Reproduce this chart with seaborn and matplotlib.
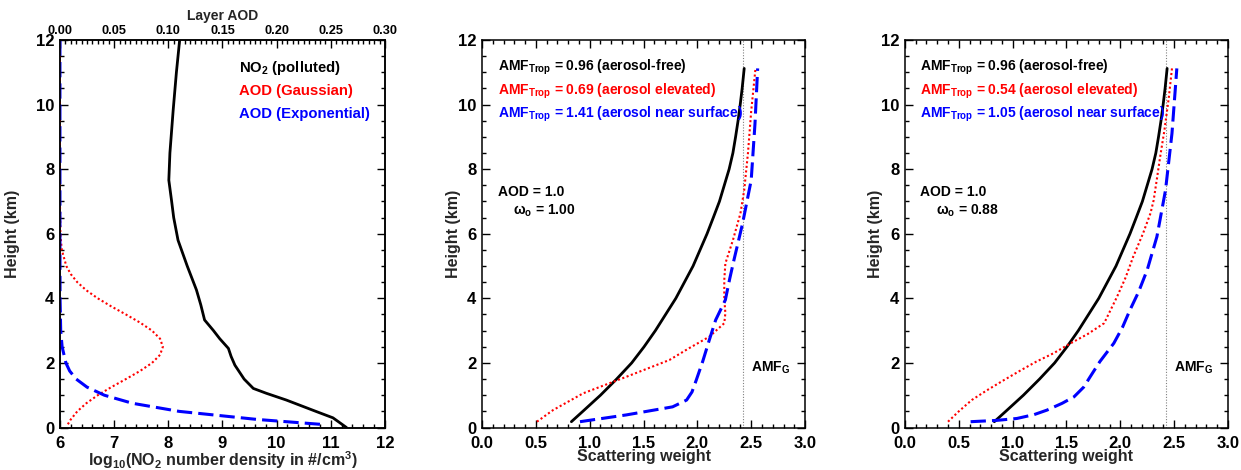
import matplotlib
matplotlib.use("Agg")
import matplotlib.pyplot as plt
import seaborn as sns
from matplotlib.ticker import MultipleLocator, FormatStrFormatter

# ---------------- data ----------------
# Panel 1: NO2 profile (bottom axis, log10 number density) vs height
no2_height = [0.0, 0.30, 0.49, 0.85, 1.06, 1.21, 1.50, 1.93, 2.20, 2.45, 2.75, 3.01, 3.33, 3.80,
              4.26, 5.00, 5.80, 6.50, 7.03, 7.66, 8.50, 9.82, 11.00, 12.00]
no2_logdens = [11.29, 11.04, 10.74, 10.18, 9.81, 9.57, 9.40, 9.23, 9.16, 9.11, 8.95, 8.83, 8.67, 8.60,
               8.52, 8.35, 8.18, 8.10, 8.06, 8.01, 8.03, 8.09, 8.15, 8.21]

# Panel 1: layer AOD (top axis)
gauss_height = [0.10, 0.25, 0.50, 0.75, 1.00, 1.25, 1.50, 1.75, 2.00, 2.25, 2.50, 2.75, 3.00, 3.25,
                3.50, 3.75, 4.00, 4.25, 4.50, 4.75, 5.00, 5.50, 6.00, 7.00, 8.00, 10.00, 12.00]
gauss_aod = [0.0073, 0.0100, 0.0160, 0.0243, 0.0349, 0.0474, 0.0609, 0.0739, 0.0850, 0.0924, 0.0950,
             0.0924, 0.0850, 0.0739, 0.0609, 0.0474, 0.0349, 0.0243, 0.0160, 0.0100, 0.0059, 0.0017,
             0.0004, 0.0, 0.0, 0.0, 0.0]
exp_height = [0.10, 0.25, 0.50, 0.75, 1.00, 1.25, 1.50, 1.75, 2.00, 2.50, 3.00, 4.00, 6.00, 8.00, 10.00, 12.00]
exp_aod = [0.240, 0.182, 0.110, 0.067, 0.041, 0.025, 0.015, 0.009, 0.0055, 0.002, 0.0007, 0.0001,
           0.0, 0.0, 0.0, 0.0]

# Scattering weights, aerosol-free (same in panels 2 and 3)
sw_free_height = [0.18, 0.50, 1.00, 1.50, 2.00, 2.50, 3.00, 3.50, 4.00, 4.50, 5.00, 5.50, 6.00, 6.50,
                  7.00, 7.50, 8.00, 8.50, 9.00, 9.50, 10.00, 10.50, 11.12]
sw_free = [0.83, 0.936, 1.10, 1.25, 1.39, 1.505, 1.61, 1.705, 1.80, 1.88, 1.96, 2.025, 2.09, 2.148,
           2.205, 2.25, 2.295, 2.33, 2.355, 2.378, 2.398, 2.416, 2.435]

# Panel 2 (omega = 1.00)
sw_elev1_height = [0.18, 0.54, 1.06, 1.57, 2.09, 2.45, 2.81, 3.23, 3.54, 4.00, 4.57, 5.08, 5.80, 6.63,
                   7.35, 8.50, 9.80, 11.12]
sw_elev1 = [0.51, 0.66, 0.94, 1.34, 1.74, 1.92, 2.11, 2.25, 2.26, 2.25, 2.25, 2.26, 2.33, 2.40,
            2.435, 2.47, 2.50, 2.54]
sw_surf1_height = [0.18, 0.39, 0.64, 0.85, 1.10, 1.47, 2.05, 2.70, 3.33, 3.95, 4.60, 5.19, 6.32, 7.66,
                   9.40, 11.12]
sw_surf1 = [0.91, 1.34, 1.77, 1.90, 1.95, 1.99, 2.05, 2.11, 2.17, 2.26, 2.30, 2.34, 2.42, 2.50,
            2.535, 2.56]

# Panel 3 (omega = 0.88)
sw_elev2_height = [0.18, 0.50, 0.85, 1.15, 1.47, 1.78, 2.04, 2.30, 2.61, 2.90, 3.23, 4.05, 4.65, 5.29,
                   6.00, 6.63, 7.04, 7.70, 8.38, 9.21, 10.20, 11.12]
sw_elev2 = [0.40, 0.50, 0.62, 0.76, 0.92, 1.08, 1.22, 1.38, 1.54, 1.70, 1.85, 1.97, 2.05, 2.12,
            2.21, 2.28, 2.31, 2.34, 2.37, 2.41, 2.45, 2.48]
sw_surf2_height = [0.18, 0.22, 0.28, 0.40, 0.54, 0.75, 0.95, 1.25, 1.57, 2.04, 2.61, 3.10, 3.64, 4.20,
                   4.88, 5.91, 7.35, 9.11, 11.12]
sw_surf2 = [0.61, 0.85, 1.04, 1.20, 1.32, 1.46, 1.57, 1.66, 1.72, 1.81, 1.94, 2.02, 2.09, 2.17,
            2.25, 2.34, 2.42, 2.48, 2.525]

AMF_G = 2.42
amf_free = [0.96, 0.96]
amf_elev = [0.69, 0.54]
amf_surf = [1.41, 1.05]
omega = ["1.00", "0.88"]
aod_total = "1.0"

# ---------------- style ----------------
sns.set_theme(style="ticks")
plt.rcParams["font.family"] = ["Liberation Sans", "DejaVu Sans"]
plt.rcParams["font.weight"] = "bold"
plt.rcParams["axes.labelweight"] = "bold"
plt.rcParams["mathtext.default"] = "regular"
plt.rcParams["axes.edgecolor"] = "black"
plt.rcParams["axes.linewidth"] = 1.1
plt.rcParams["xtick.color"] = "black"
plt.rcParams["ytick.color"] = "black"

fig = plt.figure(figsize=(12.41, 4.70), dpi=100)
bottom, height = 0.0904, 0.8245
ax1 = fig.add_axes([0.0483, bottom, 0.2619, height])
ax2 = fig.add_axes([0.3884, bottom, 0.2603, height])
ax3 = fig.add_axes([0.7292, bottom, 0.2603, height])

RED = "#ff0000"
BLUE = "#0000ff"
TXT = 10
TICK = 12
LAB = 11.5
DOT = (0, (1, 1.2))
DASH = (0, (5, 2))
XLAB_Y = -0.056


def style_ticks(ax, **kw):
    ax.tick_params(which="both", direction="in", width=1.0, colors="black", **kw)
    ax.tick_params(which="major", length=6)
    ax.tick_params(which="minor", length=3)


# ---------------- panel 1 ----------------
sns.lineplot(x=no2_logdens, y=no2_height, sort=False, estimator=None, ax=ax1,
             color="black", linewidth=2.0)
ax1.set_xlim(6, 12)
ax1.set_ylim(0, 12)
ax1.xaxis.set_major_locator(MultipleLocator(1))
ax1.xaxis.set_minor_locator(MultipleLocator(0.2))
ax1.yaxis.set_major_locator(MultipleLocator(2))
ax1.yaxis.set_minor_locator(MultipleLocator(0.5))
style_ticks(ax1, top=False, right=True, bottom=True, left=True)
ax1.tick_params(axis="x", labelsize=TICK, pad=6)
ax1.tick_params(axis="y", labelsize=TICK, pad=4)
ax1.set_xlabel("log$_{10}$(NO$_2$ number density in #/cm$^3$)", fontsize=LAB)
ax1.xaxis.set_label_coords(0.5, XLAB_Y)
ax1.set_ylabel("Height (km)", fontsize=LAB)
ax1.yaxis.set_label_coords(-0.123, 0.5)

axt = ax1.twiny()
sns.lineplot(x=gauss_aod, y=gauss_height, sort=False, estimator=None, ax=axt,
             color=RED, linewidth=1.5, linestyle=DOT)
sns.lineplot(x=exp_aod, y=exp_height, sort=False, estimator=None, ax=axt,
             color=BLUE, linewidth=2.2, linestyle=DASH)
axt.set_xlim(0, 0.30)
axt.set_ylim(0, 12)
axt.xaxis.set_major_locator(MultipleLocator(0.05))
axt.xaxis.set_minor_locator(MultipleLocator(0.005))
axt.xaxis.set_major_formatter(FormatStrFormatter("%.2f"))
style_ticks(axt, top=True, bottom=False)
axt.tick_params(axis="x", labelsize=9.2, pad=2.3)
axt.set_xlabel("Layer AOD", fontsize=10)
axt.xaxis.label.set_verticalalignment("baseline")
axt.xaxis.set_label_coords(0.5, 1.052)
axt.set_ylabel("")

ax1.text(0.552, 0.918, "NO$_2$ (polluted)", transform=ax1.transAxes, fontsize=10.7,
         fontweight="bold", color="black", va="baseline")
ax1.text(0.552, 0.858, "AOD (Gaussian)", transform=ax1.transAxes, fontsize=10.7,
         fontweight="bold", color=RED, va="baseline")
ax1.text(0.552, 0.798, "AOD (Exponential)", transform=ax1.transAxes, fontsize=10.7,
         fontweight="bold", color=BLUE, va="baseline")

# ---------------- panels 2 & 3 ----------------
panels = [
    (ax2, sw_elev1_height, sw_elev1, sw_surf1_height, sw_surf1, 0, -0.065),
    (ax3, sw_elev2_height, sw_elev2, sw_surf2_height, sw_surf2, 1, -0.068),
]
for ax, eh, ev, shh, sv, i, ylx in panels:
    ax.axvline(AMF_G, color="gray", linestyle=(0, (1, 1.5)), linewidth=0.8)
    sns.lineplot(x=sw_free, y=sw_free_height, sort=False, estimator=None, ax=ax,
                 color="black", linewidth=2.0)
    sns.lineplot(x=ev, y=eh, sort=False, estimator=None, ax=ax,
                 color=RED, linewidth=1.5, linestyle=DOT)
    sns.lineplot(x=sv, y=shh, sort=False, estimator=None, ax=ax,
                 color=BLUE, linewidth=2.2, linestyle=DASH)
    ax.set_xlim(0, 3.0)
    ax.set_ylim(0, 12)
    ax.xaxis.set_major_locator(MultipleLocator(0.5))
    ax.xaxis.set_minor_locator(MultipleLocator(0.1))
    ax.xaxis.set_major_formatter(FormatStrFormatter("%.1f"))
    ax.yaxis.set_major_locator(MultipleLocator(2))
    ax.yaxis.set_minor_locator(MultipleLocator(0.5))
    style_ticks(ax, top=True, right=True, bottom=True, left=True)
    ax.tick_params(axis="x", labelsize=TICK, pad=6)
    ax.tick_params(axis="y", labelsize=TICK, pad=4)
    ax.set_xlabel("Scattering weight", fontsize=LAB)
    ax.xaxis.set_label_coords(0.5, XLAB_Y)
    ax.set_ylabel("Height (km)", fontsize=LAB)
    ax.yaxis.set_label_coords(ylx, 0.5)

    x0 = 0.048
    ax.text(x0, 0.921, f"AMF$_{{Trop}}$ = {amf_free[i]:.2f} (aerosol-free)", transform=ax.transAxes,
            fontsize=TXT, fontweight="bold", color="black", va="baseline")
    ax.text(x0, 0.858, f"AMF$_{{Trop}}$ = {amf_elev[i]:.2f} (aerosol elevated)", transform=ax.transAxes,
            fontsize=TXT, fontweight="bold", color=RED, va="baseline")
    ax.text(x0, 0.800, f"AMF$_{{Trop}}$ = {amf_surf[i]:.2f} (aerosol near surface)", transform=ax.transAxes,
            fontsize=TXT, fontweight="bold", color=BLUE, va="baseline")
    ax.text(x0, 0.597, f"AOD = {aod_total}", transform=ax.transAxes,
            fontsize=TXT, fontweight="bold", color="black", va="baseline")
    ax.text(x0 + 0.047, 0.549, f"$\\omega_o$ = {omega[i]}", transform=ax.transAxes,
            fontsize=TXT, fontweight="bold", color="black", va="baseline")
    ax.text(0.833, 0.145, "AMF$_G$", transform=ax.transAxes,
            fontsize=TXT, fontweight="bold", color="black", va="baseline")

fig.savefig("out.png", dpi=100)
